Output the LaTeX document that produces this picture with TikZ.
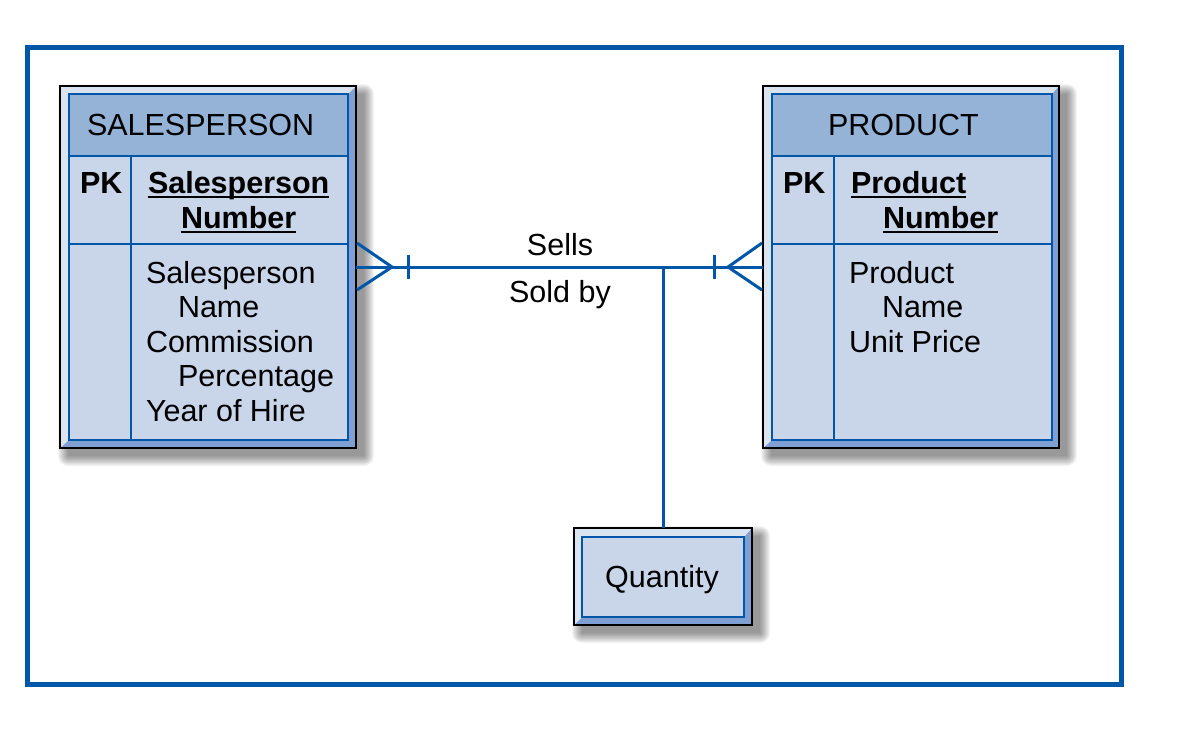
\documentclass[tikz,border=0pt]{standalone}
\usepackage{fontspec}
\setmainfont{Liberation Sans}
\usetikzlibrary{calc}
\definecolor{erblue}{RGB}{0,87,168}
\definecolor{hdrfill}{RGB}{149,179,215}
\definecolor{bodyfill}{RGB}{201,214,234}
\definecolor{bevlight}{RGB}{218,227,240}
\definecolor{bevdark}{RGB}{128,160,212}
\tikzset{
  entbox/.style={draw=black, line width=1.6pt, fill=bevdark, inner sep=0pt, outer sep=0pt},
  shadowlayer/.style={fill=black, fill opacity=0.045, draw=none},
  bevel/.style={fill=bevlight, draw=none},
  hdr/.style={fill=hdrfill, draw=none},
  bdy/.style={fill=bodyfill, draw=none},
  grid/.style={draw=erblue, line width=2.2pt},
  conn/.style={draw=erblue, line width=3pt},
  frameline/.style={draw=erblue, line width=5pt},
  txt/.style={anchor=base west, inner sep=0pt, outer sep=0pt, font=\fontsize{30.5}{34}\selectfont},
  btxt/.style={txt, font=\fontsize{30.5}{34}\selectfont\bfseries},
  ctxt/.style={anchor=base, inner sep=0pt, outer sep=0pt, font=\fontsize{30.5}{34}\selectfont},
  uline/.style={draw=black, line width=2.2pt}
}
\newcommand\ershadow[4]{%
  \foreach \r in {0,...,10}{%
    \fill[shadowlayer, rounded corners={\r pt}] ({#1+8-\r},{#2+8-\r}) rectangle ({#3+8+\r},{#4+8+\r});
  }%
}
\begin{document}
\begin{tikzpicture}[x=1pt,y=-1pt]
\useasboundingbox (0,0) rectangle (1197,731);
\fill[white] (0,0) rectangle (1197,731);
% outer frame
\draw[frameline] (27.5,47.5) rectangle (1121.5,684.5);

% shadows
\ershadow{60}{86}{356}{448}
\ershadow{763}{86}{1059}{448}
\ershadow{574}{528}{752}{625}

% ---------- SALESPERSON ----------
\node[entbox, minimum width=296pt, minimum height=362pt] (sp) at (208,267) {};
\fill[bevel] (60,86) -- (356,86) -- (348,94) -- (69,94) -- (69,440) -- (60,448) -- cycle;
\fill[hdr] (69,94) rectangle (348,156);
\fill[bdy] (69,156) rectangle (348,440);
\draw[grid] (69,94) rectangle (348,440);
\draw[grid] (69,156) -- (348,156);
\draw[grid] (69,244) -- (348,244);
\draw[grid] (131,156) -- (131,440);
\draw[draw=black, line width=1.6pt] (sp.north west) rectangle (sp.south east);
\node[txt] (sptitle) at (87,135) {SALESPERSON};
\node[btxt] (sppk) at (80,193) {PK};
\node[btxt] (spk1) at (148,193) {Salesperson};
\node[btxt] (spk2) at (181,228) {Number};
\draw[uline] ($(spk1.base west)+(0,4)$) -- ($(spk1.base east)+(0,4)$);
\draw[uline] ($(spk2.base west)+(0,4)$) -- ($(spk2.base east)+(0,4)$);
\node[txt] (spa1) at (146,283) {Salesperson};
\node[txt] (spa2) at (178,317) {Name};
\node[txt] (spa3) at (146,352) {Commission};
\node[txt] (spa4) at (178,386) {Percentage};
\node[txt] (spa5) at (146,421) {Year of Hire};

% ---------- PRODUCT ----------
\node[entbox, minimum width=296pt, minimum height=362pt] (pr) at (911,267) {};
\fill[bevel] (763,86) -- (1059,86) -- (1052,94) -- (772,94) -- (772,440) -- (763,448) -- cycle;
\fill[hdr] (772,94) rectangle (1052,156);
\fill[bdy] (772,156) rectangle (1052,440);
\draw[grid] (772,94) rectangle (1052,440);
\draw[grid] (772,156) -- (1052,156);
\draw[grid] (772,244) -- (1052,244);
\draw[grid] (834,156) -- (834,440);
\draw[draw=black, line width=1.6pt] (pr.north west) rectangle (pr.south east);
\node[txt] (prtitle) at (828,135) {PRODUCT};
\node[btxt] (prpk) at (783,193) {PK};
\node[btxt] (prk1) at (851,193) {Product};
\node[btxt] (prk2) at (883,228) {Number};
\draw[uline] ($(prk1.base west)+(0,4)$) -- ($(prk1.base east)+(0,4)$);
\draw[uline] ($(prk2.base west)+(0,4)$) -- ($(prk2.base east)+(0,4)$);
\node[txt] (pra1) at (849,283) {Product};
\node[txt] (pra2) at (882,317) {Name};
\node[txt] (pra3) at (849,352) {Unit Price};

% ---------- QUANTITY ----------
\node[entbox, minimum width=178pt, minimum height=97pt] (qty) at (663,576.5) {};
\fill[bevel] (574,528) -- (752,528) -- (744,537) -- (582,537) -- (582,617) -- (574,625) -- cycle;
\fill[bdy] (582,537) rectangle (744,617);
\draw[grid] (582,537) rectangle (744,617);
\draw[draw=black, line width=1.6pt] (qty.north west) rectangle (qty.south east);
\node[ctxt] (qtytxt) at (662,587) {Quantity};

% ---------- CONNECTORS ----------
\draw[conn] (sp.east) -- (pr.west);
% crow's foot at SALESPERSON
\draw[conn] ($(sp.east)+(1,-24)$) -- ($(sp.east)+(36,0)$) -- ($(sp.east)+(1,23)$);
\draw[conn] ($(sp.east)+(52,-12)$) -- ($(sp.east)+(52,12)$);
% crow's foot at PRODUCT
\draw[conn] ($(pr.west)+(-1,-24)$) -- ($(pr.west)+(-35,0)$) -- ($(pr.west)+(-1,23)$);
\draw[conn] ($(pr.west)+(-49,-12)$) -- ($(pr.west)+(-49,12)$);
% associative link to Quantity
\coordinate (junc) at (qty.north |- sp.east);
\draw[conn] (junc) -- (qty.north);

\node[ctxt] (sells) at (560,255) {Sells};
\node[ctxt] (soldby) at (560,302) {Sold by};
\end{tikzpicture}
\end{document}
